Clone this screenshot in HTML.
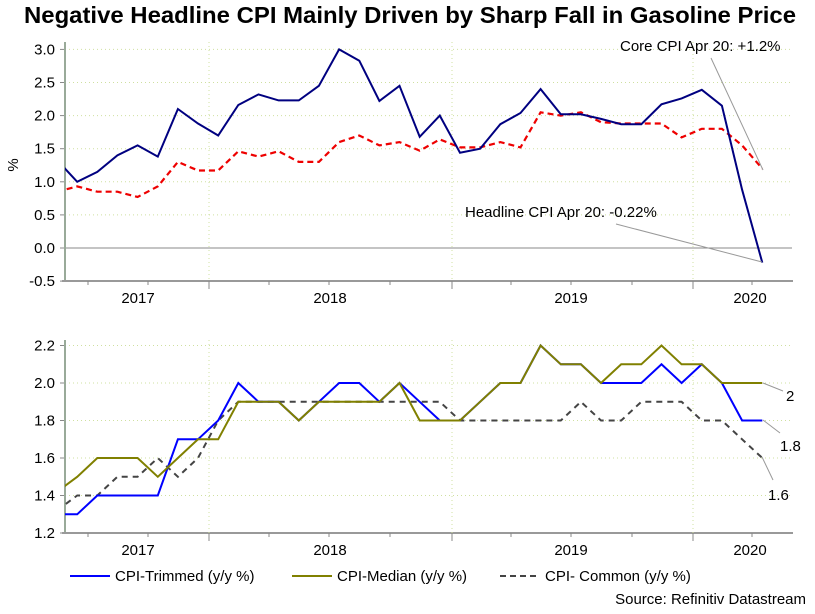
<!DOCTYPE html>
<html><head><meta charset="utf-8"><style>
body{margin:0;background:#fff;font-family:"Liberation Sans",sans-serif}
</style></head><body>
<svg id="c" width="815" height="609" xmlns="http://www.w3.org/2000/svg" font-family="Liberation Sans, sans-serif">
<defs>
<clipPath id="cp1"><rect x="65" y="30" width="728" height="260"/></clipPath>
<clipPath id="cp2"><rect x="65" y="330" width="728" height="210"/></clipPath>
</defs>
<text x="410" y="23" text-anchor="middle" font-size="23.5" font-weight="bold" textLength="772" lengthAdjust="spacingAndGlyphs">Negative Headline CPI Mainly Driven by Sharp Fall in Gasoline Price</text>
<g id="top"></g><g id="bot"></g>
</svg>
<script>
const headline=[1.33,1.0,1.15,1.4,1.55,1.38,2.1,1.88,1.7,2.16,2.32,2.23,2.23,2.45,3.0,2.83,2.22,2.45,1.68,2.0,1.44,1.5,1.87,2.04,2.4,2.02,2.02,1.95,1.87,1.87,2.17,2.26,2.39,2.15,0.88,-0.22];
const core=[0.85,0.93,0.85,0.85,0.77,0.93,1.3,1.17,1.17,1.46,1.38,1.46,1.3,1.3,1.6,1.7,1.55,1.6,1.47,1.64,1.52,1.52,1.6,1.52,2.05,2.0,2.05,1.9,1.88,1.88,1.88,1.67,1.8,1.8,1.55,1.2];
const trimmed=[1.3,1.3,1.4,1.4,1.4,1.4,1.7,1.7,1.8,2.0,1.9,1.9,1.8,1.9,2.0,2.0,1.9,2.0,1.9,1.8,1.8,1.9,2.0,2.0,2.2,2.1,2.1,2.0,2.0,2.0,2.1,2.0,2.1,2.0,1.8,1.8];
const median=[1.42,1.5,1.6,1.6,1.6,1.5,1.6,1.7,1.7,1.9,1.9,1.9,1.8,1.9,1.9,1.9,1.9,2.0,1.8,1.8,1.8,1.9,2.0,2.0,2.2,2.1,2.1,2.0,2.1,2.1,2.2,2.1,2.1,2.0,2.0,2.0];
const common=[1.32,1.4,1.4,1.5,1.5,1.6,1.5,1.6,1.8,1.9,1.9,1.9,1.9,1.9,1.9,1.9,1.9,1.9,1.9,1.9,1.8,1.8,1.8,1.8,1.8,1.8,1.9,1.8,1.8,1.9,1.9,1.9,1.8,1.8,1.7,1.6];
const topTicks=[3.0,2.5,2.0,1.5,1.0,0.5,0.0,-0.5];
const botTicks=[2.2,2.0,1.8,1.6,1.4,1.2];
const years=["2017","2018","2019","2020"];
const yearX=[138,330,571,750];
const NS="http://www.w3.org/2000/svg";
function X(i){return 57+i*20.15;}
function yT(v){return 248-v*66.2;}
function yB(v){return 533-(v-1.2)*187.5;}
function mk(p,tag,a){const e=document.createElementNS(NS,tag);for(const k in a)e.setAttribute(k,a[k]);p.appendChild(e);return e;}
function axes(g,ticks,yf,top,bottom,fmt){
  ticks.forEach(t=>{const y=yf(t);
    const gl=mk(g,'line',{x1:65,x2:792,y1:y,y2:y,stroke:t===0?'#888':'#cfe0a0','stroke-dasharray':t===0?'':'1,3','stroke-width':1});
    
    
    const tl=mk(g,'text',{x:55,y:y+5,'text-anchor':'end','font-size':15});tl.textContent=fmt(t);
    
    
    mk(g,'line',{x1:60,x2:65,y1:y,y2:y,stroke:'#888'});
  });
  const ax=mk(g,'line',{x1:65,x2:65,y1:top,y2:bottom,stroke:'#9a9',"stroke-width":2});
  
  
  const xa=mk(g,'line',{x1:62,x2:793,y1:bottom,y2:bottom,stroke:'#999','stroke-width':2});
  
  
  [88,148,269,329,390,511,571,632,752].forEach(x=>mk(g,'line',{x1:x,x2:x,y1:bottom,y2:bottom+4,stroke:'#888'}));
  [209,452,693].forEach(x=>{mk(g,'line',{x1:x,x2:x,y1:bottom,y2:bottom+8,stroke:'#888'});mk(g,'line',{x1:x,x2:x,y1:top,y2:bottom,stroke:'#cfe0a0','stroke-dasharray':'1,3'});});
  years.forEach((yr,i)=>{const t=mk(g,'text',{x:yearX[i],y:bottom+22,'text-anchor':'middle','font-size':15});t.textContent=yr;
    
    });
}
function series(g,data,yf,clip,attrs,name){
  const d=data.map((v,i)=>(i?'L':'M')+X(i).toFixed(1)+','+yf(v).toFixed(1)).join('');
  const p=mk(g,'path',Object.assign({d:d,fill:'none','clip-path':'url(#'+clip+')','stroke-linejoin':'miter'},attrs));
  
  
}
const gt=document.getElementById('top'),gb=document.getElementById('bot');
axes(gt,topTicks,yT,42,281,v=>v.toFixed(1));
axes(gb,botTicks,yB,340,533,v=>v.toFixed(1));
const pct=mk(gt,'text',{x:18,y:165,'text-anchor':'middle','font-size':15,transform:'rotate(-90 18 165)'});pct.textContent='%';


series(gt,core,yT,'cp1',{stroke:'#e00','stroke-width':2.2,'stroke-dasharray':'6,4'},'core-cpi-line');
series(gt,headline,yT,'cp1',{stroke:'#000080','stroke-width':2},'headline-cpi-line');
series(gb,common,yB,'cp2',{stroke:'#444','stroke-width':2,'stroke-dasharray':'6,5'},'cpi-common-line');
series(gb,trimmed,yB,'cp2',{stroke:'#00f','stroke-width':2},'cpi-trimmed-line');
series(gb,median,yB,'cp2',{stroke:'#808000','stroke-width':2},'cpi-median-line');
function ann(g,x1,y1,x2,y2,tx,ty,txt,name,anchor){
  mk(g,'line',{x1:x1,y1:y1,x2:x2,y2:y2,stroke:'#999'});
  const t=mk(g,'text',{x:tx,y:ty,'font-size':15,'text-anchor':anchor||'start'});t.textContent=txt;
  
  
}
ann(gt,711,58,763,170,620,51,'Core CPI Apr 20: +1.2%','core-annotation');
ann(gt,616,224,762,262,465,217,'Headline CPI Apr 20: -0.22%','headline-annotation');
ann(gb,763,383,783,391,786,401,'2','median-end-label');
ann(gb,763,420,780,433,780,451,'1.8','trimmed-end-label');
ann(gb,762,457,773,480,768,500,'1.6','common-end-label');
const L=[[70,'CPI-Trimmed (y/y %)','#00f',''],[292,'CPI-Median (y/y %)','#808000',''],[500,'CPI- Common (y/y %)','#444','6,4']];
L.forEach(l=>{const g=mk(document.getElementById('c'),'g',{});
  
  
  mk(g,'line',{x1:l[0],x2:l[0]+40,y1:576,y2:576,stroke:l[2],'stroke-width':2,'stroke-dasharray':l[3]});
  const t=mk(g,'text',{x:l[0]+45,y:581,'font-size':15});t.textContent=l[1];});
const s=mk(document.getElementById('c'),'text',{x:806,y:604,'text-anchor':'end','font-size':15});s.textContent='Source: Refinitiv Datastream';


</script>
</body></html>
